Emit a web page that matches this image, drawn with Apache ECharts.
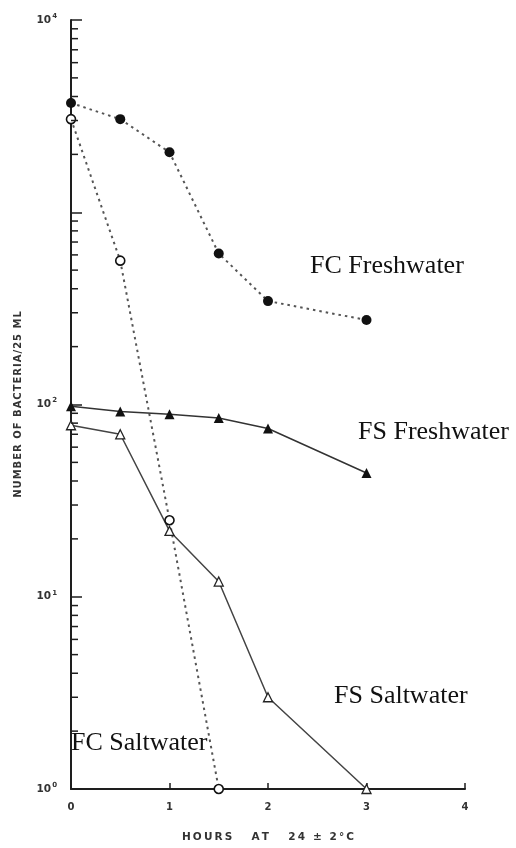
<!DOCTYPE html>
<html>
<head>
<meta charset="utf-8">
<script src="https://cdn.jsdelivr.net/npm/echarts@6/dist/echarts.min.js"></script>
<style>
html,body{margin:0;padding:0;background:#fff;}
#chart{width:516px;height:848px;}
</style>
</head>
<body>
<div id="chart"></div>
<script>
// Data
var hours = [0, 0.5, 1, 1.5, 2, 3];
var fcFreshwater = [3700, 3050, 2050, 610, 345, 275];
var fcSaltwater = [3050, 560, 25, 1];
var fsFreshwater = [98, 92, 89, 85, 75, 44];
var fsSaltwater = [78, 70, 22, 12, 3, 1];
var xTicks = [0, 1, 2, 3, 4];
var yLabelledPowers = [0, 1, 2, 4];
var minorTickValues = [];
[1, 10, 100, 1000].forEach(function (d) {
  [2, 3, 4, 5, 6, 7, 8, 9].forEach(function (m) { minorTickValues.push(m * d); });
});
var seriesLabels = ['FC Freshwater', 'FS Freshwater', 'FS Saltwater', 'FC Saltwater'];
var xTitle = 'HOURS   AT   24 ± 2°C';
var yTitle = 'NUMBER OF BACTERIA/25 ML';

function pairs(xs, ys) {
  return ys.map(function (v, i) { return [xs[i], v]; });
}
function spaced(s, sp) {
  return s.split('').join(sp);
}

var chart = echarts.init(document.getElementById('chart'), null, {renderer: 'canvas'});
var axisFont = 'DejaVu Sans';
var ink = '#1e1e1e';

var option = {
  backgroundColor: '#ffffff',
  animation: false,
  grid: {left: 71, right: 51, top: 20, bottom: 54},
  xAxis: {
    type: 'value',
    min: 0, max: 4, interval: 1,
    name: spaced(xTitle, '\u2009'),
    nameLocation: 'middle',
    nameGap: 43,
    nameTextStyle: {fontFamily: axisFont, fontWeight: 'bold', fontSize: 10.5, color: '#333'},
    axisLine: {show: true, lineStyle: {color: ink, width: 2}},
    axisTick: {show: true, inside: true, length: 6, lineStyle: {color: ink, width: 1.5}},
    axisLabel: {fontFamily: axisFont, fontWeight: 'bold', fontSize: 10, color: '#333', margin: 13},
    splitLine: {show: false}
  },
  yAxis: {
    type: 'log',
    logBase: 10,
    min: 1, max: 10000,
    name: spaced(yTitle, '\u200A'),
    nameLocation: 'middle',
    nameGap: 48,
    nameTextStyle: {fontFamily: axisFont, fontWeight: 'bold', fontSize: 10, color: '#333'},
    axisLine: {show: true, lineStyle: {color: ink, width: 2}},
    axisTick: {show: true, inside: true, length: 11, lineStyle: {color: ink, width: 1.5}},
    axisLabel: {
      margin: 14,
      formatter: function (v) {
        var p = Math.round(Math.log(v) / Math.LN10);
        if (yLabelledPowers.indexOf(p) < 0) return '';
        return '{b|10}{s|' + p + '}';
      },
      rich: {
        b: {fontFamily: axisFont, fontWeight: 'bold', fontSize: 10.5, color: '#333'},
        s: {fontFamily: axisFont, fontWeight: 'bold', fontSize: 7, color: '#333', padding: [0, 0, 8, 1]}
      }
    },
    splitLine: {show: false}
  },
  series: [
    {
      type: 'custom',
      silent: true,
      z: 5,
      data: minorTickValues.map(function (v) { return [0, v]; }),
      renderItem: function (params, api) {
        var p = api.coord([api.value(0), api.value(1)]);
        return {
          type: 'line',
          shape: {x1: p[0], y1: p[1], x2: p[0] + 7, y2: p[1]},
          style: {stroke: ink, lineWidth: 1.5}
        };
      }
    },
    {
      name: 'FC Freshwater',
      type: 'line',
      data: pairs(hours, fcFreshwater),
      symbol: 'circle',
      symbolSize: 10,
      itemStyle: {color: '#111'},
      lineStyle: {color: '#555', width: 2, type: [2.5, 4]},
      z: 3
    },
    {
      name: 'FC Saltwater',
      type: 'line',
      data: pairs(hours, fcSaltwater),
      symbol: 'circle',
      symbolSize: 9,
      itemStyle: {color: '#fff', borderColor: '#111', borderWidth: 1.6},
      lineStyle: {color: '#555', width: 2, type: [2.5, 4]},
      z: 3
    },
    {
      name: 'FS Freshwater',
      type: 'line',
      data: pairs(hours, fsFreshwater),
      symbol: 'triangle',
      symbolSize: 10,
      itemStyle: {color: '#111'},
      lineStyle: {color: '#333', width: 1.5},
      z: 3
    },
    {
      name: 'FS Saltwater',
      type: 'line',
      data: pairs(hours, fsSaltwater),
      symbol: 'triangle',
      symbolSize: 9,
      itemStyle: {color: '#fff', borderColor: '#222', borderWidth: 1.3},
      lineStyle: {color: '#444', width: 1.5},
      z: 3
    }
  ],
  graphic: [
    {type: 'text', left: 310, top: 253, style: {text: seriesLabels[0], font: '26px "Liberation Serif"', fill: '#111'}},
    {type: 'text', left: 358, top: 419, style: {text: seriesLabels[1], font: '26px "Liberation Serif"', fill: '#111'}},
    {type: 'text', left: 334, top: 683, style: {text: seriesLabels[2], font: '26px "Liberation Serif"', fill: '#111'}},
    {type: 'text', left: 71, top: 730, style: {text: seriesLabels[3], font: '26px "Liberation Serif"', fill: '#111'}}
  ]
};
chart.setOption(option);
</script>
</body>
</html>
